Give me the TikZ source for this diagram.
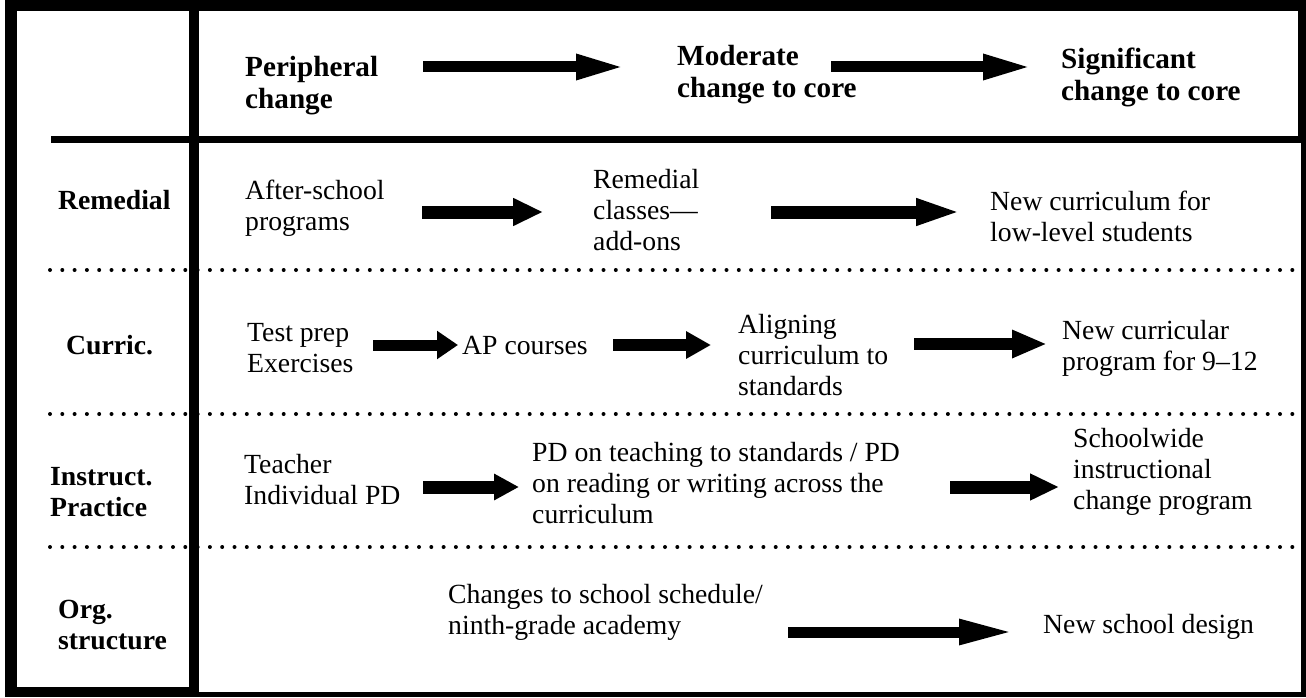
\documentclass[tikz,border=0pt]{standalone}
\usepackage{fontspec}
\setmainfont{Liberation Serif}
\usetikzlibrary{arrows.meta}
\begin{document}
\begin{tikzpicture}[x=1pt,y=-1pt,
  txt/.style={anchor=west,inner sep=0pt,align=left,font=\fontsize{27.7}{31}\selectfont},
  hdr/.style={anchor=west,inner sep=0pt,align=left,font=\fontsize{29.2}{32}\selectfont\bfseries},
  lbl/.style={anchor=west,inner sep=0pt,align=left,font=\fontsize{27.7}{31}\selectfont\bfseries},
  fatarrow/.style n args={3}{line width=#1,-{Triangle[length=#3,width=#2]}},
  dotline/.style={line width=4pt,line cap=round,dash pattern=on 0pt off 12.3pt}]
\useasboundingbox (0,0) rectangle (1306,698);
% frame
\fill[black] (5,0) rectangle (1306,697);
\fill[white] (17,11) rectangle (189,687);
\fill[white] (199,11) rectangle (1298,136);
\fill[white] (199,143) rectangle (1301,692);
\fill[black] (51,136) rectangle (189,143);
% dotted separators
\coordinate (d1s) at (50,270); \coordinate (d1e) at (1298,270);
\coordinate (d2s) at (50,414); \coordinate (d2e) at (1298,414);
\coordinate (d3s) at (50,547); \coordinate (d3e) at (1298,547);
\draw[dotline] (d1s) -- (d1e);
\draw[dotline] (d2s) -- (d2e);
\draw[dotline] (d3s) -- (d3e);
% header
\node[hdr] (hp) at (245,86) {Peripheral\\change};
\node[hdr] (hm) at (677,75) {Moderate\\change to core};
\node[hdr] (hs) at (1061,77) {Significant\\change to core};
\coordinate (h1s) at (423,67); \coordinate (h1e) at (626,67);
\coordinate (h2s) at (831,67); \coordinate (h2e) at (1033,67);
\draw[fatarrow={11pt}{23pt}{50pt}] (h1s) -- (h1e);
\draw[fatarrow={11pt}{23pt}{50pt}] (h2s) -- (h2e);
% row labels
\node[lbl] (lr) at (58,200) {Remedial};
\node[lbl] (lc) at (66,345) {Curric.};
\node[lbl] (li) at (50,492) {Instruct.\\Practice};
\node[lbl] (lo) at (58,625) {Org.\\structure};
% row 1
\node[txt] (r1a) at (245,208) {After-school\\programs};
\node[txt] (r1b) at (593,210) {Remedial\\classes—\\add-ons};
\node[txt] (r1c) at (990,216) {New curriculum for\\low-level students};
\coordinate (r1s1) at (422,212); \coordinate (r1e1) at (543,212);
\coordinate (r1s2) at (771,212); \coordinate (r1e2) at (962,212);
\draw[fatarrow={13pt}{26pt}{30pt}] (r1s1) -- (r1e1);
\draw[fatarrow={13pt}{24pt}{46pt}] (r1s2) -- (r1e2);
% row 2
\node[txt] (r2a) at (247,348) {Test prep\\Exercises};
\node[txt] (r2b) at (462,345) {AP courses};
\node[txt] (r2c) at (738,355) {Aligning\\curriculum to\\standards};
\node[txt] (r2d) at (1062,348) {New curricular\\program for 9–12};
\coordinate (r2s1) at (373,345); \coordinate (r2e1) at (458,345);
\coordinate (r2s2) at (613,345); \coordinate (r2e2) at (711,345);
\coordinate (r2s3) at (914,344); \coordinate (r2e3) at (1047,344);
\draw[fatarrow={11pt}{27pt}{21pt}] (r2s1) -- (r2e1);
\draw[fatarrow={12pt}{26pt}{25pt}] (r2s2) -- (r2e2);
\draw[fatarrow={12pt}{26pt}{35pt}] (r2s3) -- (r2e3);
% row 3
\node[txt] (r3a) at (244,480) {Teacher\\Individual PD};
\node[txt] (r3b) at (532,483) {PD on teaching to standards / PD\\on reading or writing across the\\curriculum};
\node[txt] (r3c) at (1073,472) {Schoolwide\\instructional\\change program};
\coordinate (r3s1) at (423,487); \coordinate (r3e1) at (519,487);
\coordinate (r3s2) at (950,487); \coordinate (r3e2) at (1059,487);
\draw[fatarrow={13pt}{25pt}{25pt}] (r3s1) -- (r3e1);
\draw[fatarrow={13pt}{25pt}{29pt}] (r3s2) -- (r3e2);
% row 4
\node[txt] (r4a) at (448,612) {Changes to school schedule/\\ninth-grade academy};
\node[txt] (r4b) at (1043,627) {New school design};
\coordinate (r4s1) at (788,632); \coordinate (r4e1) at (1015,632);
\draw[fatarrow={11pt}{23pt}{56pt}] (r4s1) -- (r4e1);
\end{tikzpicture}
\end{document}
